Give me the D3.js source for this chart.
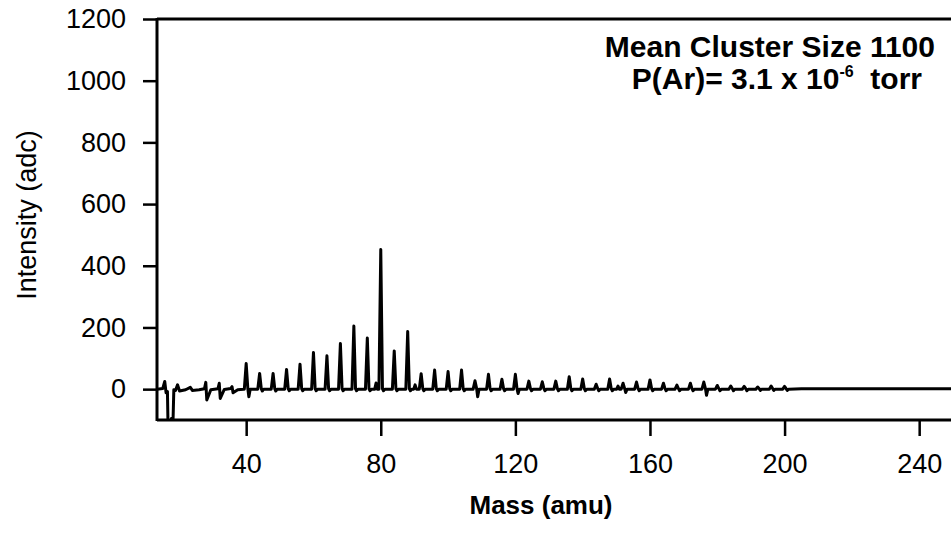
<!DOCTYPE html>
<html>
<head>
<meta charset="utf-8">
<script src="https://cdn.jsdelivr.net/npm/d3@7"></script>
<style>
  html, body { margin: 0; padding: 0; background: #fff; }
  svg { display: block; }
  text { font-family: "Liberation Sans", Arial, Helvetica, sans-serif; fill: #000; }
</style>
</head>
<body>
<svg id="chart" width="951" height="535"></svg>
<script>
// ---------- data ----------
const xTicks = [40, 80, 120, 160, 200, 240];
const yTicks = [0, 200, 400, 600, 800, 1000, 1200];

// low-mass part of the trace (mass, intensity)
const lowMass = [13.5, 15.2, 15.8, 16.2, 16.6, 16.8, 17.5, 17.8, 18.2, 18.5, 19.0, 19.6, 20.2, 22.0, 23.4, 24.0, 26.0, 27.6, 28.0, 28.3, 29.5, 31.6, 32.0, 32.3, 33.5, 35.4, 35.8, 36.1, 37.5, 39.2];
const lowInt  = [0, 2, 25, -12, -8, -130, -130, -95, -130, -2, -4, 14, -6, -2, 6, -4, -2, 1, 22, -35, -2, 1, 19, -30, -1, 2, 8, -12, -2, 0];

// cluster peaks every 4 amu: centre mass, peak top, following dip
const peakMass   = [40, 44, 48, 52, 56, 60, 64, 68, 72, 76, 80, 84, 88, 92, 96, 100, 104, 108, 112, 116, 120, 124, 128, 132, 136, 140, 144, 148, 152, 156, 160, 164, 168, 172, 176, 180, 184, 188, 192, 196, 200];
const peakHeight = [83, 51, 51, 64, 81, 119, 108, 148, 205, 166, 453, 124, 187, 50, 62, 57, 62, 27, 48, 32, 48, 26, 24, 26, 40, 33, 16, 33, 19, 23, 30, 19, 13, 19, 23, 12, 10, 9, 7, 10, 9];
const peakDip    = [-25, -6, -6, -5, -5, -5, -5, -5, -5, -5, -5, -5, -5, -5, -5, -5, -5, -25, -5, -5, -14, -5, -5, -5, -5, -5, -5, -5, -11, -5, -5, -5, -5, -5, -20, -5, -5, -5, -4, -4, -4];

// small extra features between clusters
const minorMass   = [78.6, 90.2, 150.5];
const minorHeight = [20, 14, 10];

const endMass = [205, 256];
const endInt  = [1, 1];

// ---------- build trace ----------
let pts = [];
lowMass.forEach((m, i) => pts.push([m, lowInt[i]]));
peakMass.forEach((m, i) => {
  pts.push([m - 0.55, 0]);
  pts.push([m, peakHeight[i]]);
  pts.push([m + 0.5, 1]);
  pts.push([m + 0.8, peakDip[i]]);
  pts.push([m + 1.2, 0]);
});
minorMass.forEach((m, i) => {
  pts.push([m - 0.4, 0]);
  pts.push([m, minorHeight[i]]);
  pts.push([m + 0.4, 0]);
});
endMass.forEach((m, i) => pts.push([m, endInt[i]]));
pts.sort((a, b) => a[0] - b[0]);

// ---------- chart ----------
const svg = d3.select("#chart");
const plotLeft = 157, plotTop = 19, plotBottom = 420;
const x = d3.scaleLinear().domain([13.5, 256]).range([plotLeft, plotLeft + (256 - 13.5) * 3.365]);
const y = d3.scaleLinear().domain([-100, 1200]).range([plotBottom, plotTop]);

svg.append("defs").append("clipPath").attr("id", "clip")
  .append("rect").attr("x", plotLeft).attr("y", plotTop).attr("width", 951 - plotLeft).attr("height", plotBottom - plotTop);

// trace
svg.append("path")
  .datum(pts)
  .attr("clip-path", "url(#clip)")
  .attr("fill", "none")
  .attr("stroke", "#000")
  .attr("stroke-width", 3)
  .attr("stroke-linejoin", "round")
  .attr("d", d3.line().x(d => x(d[0])).y(d => y(d[1])));

// axes
const yAxis = d3.axisLeft(y).tickValues(yTicks).tickSize(14).tickPadding(17).tickFormat(d3.format("d"));
const gy = svg.append("g").attr("transform", `translate(${plotLeft},0)`).call(yAxis);
gy.select(".domain").remove();
gy.selectAll(".tick line").attr("stroke-width", 2.5);
gy.selectAll(".tick text").attr("font-size", 27).attr("font-family", "Liberation Sans, Arial, sans-serif");

const xAxis = d3.axisBottom(x).tickValues(xTicks).tickSize(16).tickPadding(18).tickFormat(d3.format("d"));
const gx = svg.append("g").attr("transform", `translate(0,${plotBottom})`).call(xAxis);
gx.select(".domain").remove();
gx.selectAll(".tick line").attr("stroke-width", 2.5);
gx.selectAll(".tick text").attr("font-size", 27).attr("font-family", "Liberation Sans, Arial, sans-serif");

// frame lines
svg.append("line").attr("x1", plotLeft).attr("x2", plotLeft).attr("y1", plotTop - 1).attr("y2", plotBottom + 1)
  .attr("stroke", "#000").attr("stroke-width", 3);
svg.append("line").attr("x1", plotLeft).attr("x2", 951).attr("y1", plotTop).attr("y2", plotTop)
  .attr("stroke", "#000").attr("stroke-width", 3);
svg.append("line").attr("x1", plotLeft).attr("x2", 951).attr("y1", plotBottom).attr("y2", plotBottom)
  .attr("stroke", "#000").attr("stroke-width", 3);

// axis titles
svg.append("text")
  .attr("transform", "translate(36,215) rotate(-90)")
  .attr("text-anchor", "middle")
  .attr("font-size", 27)
  .text("Intensity (adc)");

svg.append("text")
  .attr("x", 541).attr("y", 514)
  .attr("text-anchor", "middle")
  .attr("font-size", 26)
  .attr("font-weight", "bold")
  .text("Mass (amu)");

// annotation
svg.append("text")
  .attr("x", 935).attr("y", 57)
  .attr("text-anchor", "end")
  .attr("font-size", 30)
  .attr("font-weight", "bold")
  .text("Mean Cluster Size 1100");

const t2 = svg.append("text")
  .attr("x", 922).attr("y", 89)
  .attr("text-anchor", "end")
  .attr("font-size", 30)
  .attr("font-weight", "bold");
t2.append("tspan").text("P(Ar)= 3.1 x 10");
t2.append("tspan").attr("font-size", 16).attr("dy", -12).text("-6");
t2.append("tspan").attr("dy", 12).text("\u00a0 torr");
</script>
</body>
</html>
